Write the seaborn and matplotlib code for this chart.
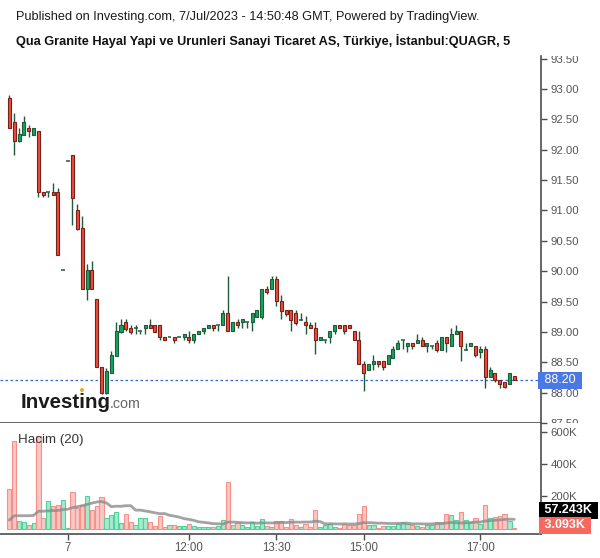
import numpy as np
import pandas as pd
import matplotlib
matplotlib.use("Agg")
import matplotlib.pyplot as plt
import matplotlib.transforms as mtransforms
from matplotlib.patches import Ellipse
import seaborn as sns

# ---------------- data ----------------
bar_idx = list(range(105))
open_p = [92.85, 92.45, 92.15, 92.25, 92.35, 92.25, 92.30, 91.30, 91.30, 91.30,
          91.30, 90.02, 91.81, 91.91, 91.01, 90.71, 89.70, 90.02, 89.55, 88.42,
          88.00, 88.32, 88.61, 89.00, 89.16, 89.06, 89.06, 89.01, 89.06, 89.11,
          89.11, 89.11, 88.91, 88.91, 88.91, 88.91, 88.91, 88.91, 88.86, 88.96,
          89.01, 89.06, 89.11, 89.11, 89.11, 89.31, 89.01, 89.16, 89.16, 89.16,
          89.16, 89.25, 89.25, 89.70, 89.70, 89.87, 89.51, 89.36, 89.36, 89.31,
          89.20, 89.16, 89.11, 89.06, 88.86, 88.86, 88.91, 89.01, 89.11, 89.11,
          89.11, 89.01, 88.86, 88.47, 88.37, 88.47, 88.52, 88.52, 88.47, 88.57,
          88.72, 88.86, 88.76, 88.81, 88.81, 88.86, 88.76, 88.76, 88.81, 88.71,
          88.92, 88.76, 88.96, 89.02, 88.71, 88.76, 88.76, 88.67, 88.72, 88.26,
          88.32, 88.21, 88.17, 88.15, 88.27]
high_p = [92.90, 92.60, 92.35, 92.56, 92.41, 92.35, 92.30, 91.30, 91.30, 91.46,
          91.37, 90.02, 91.81, 91.91, 91.11, 90.91, 90.12, 90.17, 89.55, 88.42,
          88.40, 88.68, 89.16, 89.21, 89.21, 89.11, 89.11, 89.01, 89.11, 89.21,
          89.11, 89.11, 88.91, 88.91, 88.91, 88.91, 88.96, 89.01, 88.96, 89.01,
          89.06, 89.11, 89.11, 89.11, 89.36, 89.92, 89.16, 89.21, 89.21, 89.16,
          89.31, 89.36, 89.70, 89.76, 89.92, 89.92, 89.61, 89.36, 89.36, 89.36,
          89.31, 89.26, 89.16, 89.16, 88.91, 88.86, 89.01, 89.11, 89.11, 89.11,
          89.11, 89.01, 89.01, 88.52, 88.47, 88.62, 88.52, 88.52, 88.62, 88.76,
          88.86, 88.86, 88.81, 88.81, 88.96, 88.91, 88.81, 88.76, 88.86, 88.92,
          88.92, 89.06, 89.11, 89.02, 88.82, 88.81, 88.76, 88.76, 88.76, 88.42,
          88.32, 88.21, 88.17, 88.32, 88.27]
low_p = [92.35, 91.92, 92.12, 92.24, 92.21, 92.25, 91.22, 91.22, 91.22, 91.25,
         90.27, 90.02, 91.81, 90.76, 90.67, 89.70, 89.52, 89.70, 88.42, 87.98,
         87.98, 88.32, 88.61, 88.98, 89.02, 88.97, 88.97, 88.97, 88.97, 89.06,
         89.00, 88.87, 88.86, 88.91, 88.82, 88.91, 88.87, 88.82, 88.82, 88.96,
         88.97, 89.06, 89.02, 89.02, 89.11, 89.01, 89.01, 89.06, 89.06, 89.06,
         89.02, 89.25, 89.21, 89.62, 89.70, 89.42, 89.22, 89.27, 89.01, 89.12,
         89.20, 88.97, 89.06, 88.63, 88.86, 88.82, 88.82, 88.97, 89.06, 88.97,
         89.06, 88.86, 88.47, 88.02, 88.37, 88.37, 88.42, 88.37, 88.47, 88.57,
         88.72, 88.72, 88.67, 88.72, 88.81, 88.76, 88.67, 88.72, 88.67, 88.71,
         88.67, 88.76, 88.96, 88.52, 88.71, 88.76, 88.58, 88.57, 88.07, 88.26,
         88.17, 88.07, 88.07, 88.15, 88.21]
close_p = [92.35, 92.15, 92.26, 92.45, 92.30, 92.35, 91.30, 91.25, 91.30, 91.25,
           90.27, 90.02, 91.81, 91.20, 90.70, 89.70, 90.02, 89.70, 88.42, 88.00,
           88.36, 88.62, 89.02, 89.11, 89.05, 89.00, 89.06, 89.01, 89.11, 89.06,
           89.00, 88.91, 88.86, 88.91, 88.86, 88.91, 88.96, 88.86, 88.96, 89.01,
           89.06, 89.11, 89.06, 89.11, 89.31, 89.01, 89.16, 89.11, 89.21, 89.16,
           89.31, 89.36, 89.70, 89.65, 89.87, 89.51, 89.35, 89.30, 89.20, 89.15,
           89.20, 89.11, 89.06, 88.86, 88.91, 88.86, 89.01, 89.11, 89.06, 89.01,
           89.06, 88.86, 88.47, 88.32, 88.47, 88.52, 88.47, 88.42, 88.62, 88.72,
           88.81, 88.86, 88.81, 88.76, 88.86, 88.76, 88.81, 88.76, 88.71, 88.92,
           88.81, 88.96, 89.02, 88.76, 88.71, 88.81, 88.62, 88.72, 88.26, 88.37,
           88.21, 88.15, 88.10, 88.32, 88.21]
volume_k = [246, 543, 48, 40, 23, 33, 574, 64, 171, 142,
            147, 178, 2, 229, 126, 145, 200, 116, 140, 194,
            68, 85, 101, 33, 91, 40, 21, 64, 64, 43,
            17, 77, 12, 21, 21, 15, 15, 27, 15, 12,
            12, 10, 10, 17, 54, 289, 21, 33, 21, 10,
            40, 15, 58, 17, 12, 48, 48, 8, 60, 23,
            8, 29, 8, 116, 8, 21, 29, 12, 6, 29,
            21, 21, 89, 140, 21, 21, 2, 17, 17, 17,
            29, 41, 29, 21, 17, 12, 21, 21, 41, 37,
            89, 85, 54, 101, 54, 43, 64, 27, 145, 64,
            75, 80, 93, 48, 3.093]
# volume MA(20) values for the first bars (window includes prior data)
ma_head_k = [53, 80, 80, 80, 80, 82, 108, 108, 110, 112,
             112, 118, 120, 130, 136, 142, 150, 158, 165]

tick_bars = [12, 37, 55, 73, 97]
tick_labels = ["7", "12:00", "13:30", "15:00", "17:00"]
price_ticks = [87.5, 88.0, 88.5, 89.0, 89.5, 90.0, 90.5, 91.0, 91.5, 92.0, 92.5, 93.0, 93.5]
vol_ticks_k = [200, 400, 600]
last_price = 88.20
ma_last_label = "57.243K"
vol_last_label = "3.093K"

df = pd.DataFrame({"bar": bar_idx, "open": open_p, "high": high_p,
                   "low": low_p, "close": close_p, "volume": np.array(volume_k) * 1000})
ma = df["volume"].rolling(20).mean().to_numpy()
ma[:len(ma_head_k)] = np.array(ma_head_k) * 1000
df["ma"] = ma
df["up"] = df["close"] >= df["open"]

# ---------------- style ----------------
sns.set_theme(style="white")
plt.rcParams['font.family'] = ['Liberation Sans', 'DejaVu Sans']

W, H = 600, 558
fig = plt.figure(figsize=(W / 100, H / 100), dpi=100)
fig.patch.set_facecolor("white")


def rect(x0, y0, x1, y1):
    return [x0 / W, 1 - y1 / H, (x1 - x0) / W, (y1 - y0) / H]


ax = fig.add_axes(rect(0, 56, 541, 423))
axv = fig.add_axes(rect(0, 423, 541, 533.5), sharex=ax)

axis_col = "#4d4d4d"
label_col = "#555555"
wick_col = "#1f5a3b"
up_fill, up_edge = "#14a660", "#1f5a3b"
dn_fill, dn_edge = "#ef4a3e", "#7a2117"

# ---------------- candles ----------------
xs = df["bar"].to_numpy()
ax.vlines(xs, df["low"], df["high"], color=wick_col, lw=1.0, zorder=2)
body_lo = np.minimum(df["open"], df["close"])
body_h = (df["close"] - df["open"]).abs()
doji = (body_h < 1e-9).to_numpy()
up = df["up"].to_numpy()
nd = ~doji
ax.bar(xs[nd & up], body_h[nd & up], bottom=body_lo[nd & up], width=0.62,
       color=up_fill, edgecolor=up_edge, lw=0.8, zorder=3)
ax.bar(xs[nd & ~up], body_h[nd & ~up], bottom=body_lo[nd & ~up], width=0.62,
       color=dn_fill, edgecolor=dn_edge, lw=0.8, zorder=3)
ax.hlines(df["open"][doji], xs[doji] - 0.4, xs[doji] + 0.4,
          color=wick_col, lw=1.1, zorder=3)

ax.axhline(last_price, color="#3a66d9", lw=0.9, ls=(0, (2, 2)), zorder=1)

ax.set_xlim(-1.92, 109.5)
ax.set_ylim(87.501, 93.543)
ax.yaxis.tick_right()
ax.set_yticks(price_ticks)
ax.set_yticklabels([f"{p:.2f}" for p in price_ticks])
ax.tick_params(axis="y", direction="out", length=4, width=1, color=axis_col,
               labelcolor=label_col, labelsize=8.2, pad=3, right=True, left=False)
ax.tick_params(axis="x", bottom=False, labelbottom=False)
for s in ["left", "top"]:
    ax.spines[s].set_visible(False)
for s in ["right", "bottom"]:
    ax.spines[s].set_color(axis_col)
    ax.spines[s].set_linewidth(1.2)
ax.set_facecolor("white")

# clip the price labels to the price pane (edge labels are cut, as in the reference)
clip_price = mtransforms.TransformedBbox(
    mtransforms.Bbox([[541 / W, 1 - 423 / H], [1.0, 1 - 56 / H]]), fig.transFigure)
for t in ax.get_yticklabels():
    t.set_clip_on(True)
    t.set_clip_box(clip_price)

trans = mtransforms.blended_transform_factory(ax.transAxes, ax.transData)
ax.text(1.0, last_price, " 88.20 ", transform=trans, ha="left", va="center",
        color="white", fontsize=9, zorder=10, clip_on=False,
        bbox=dict(boxstyle="square,pad=0.22", fc="#4a78e6", ec="none"))

# ---------------- volume ----------------
vcol_fill = np.where(up, "#a8e8cc", "#fcc6c3")
vcol_edge = np.where(up, "#4fd49c", "#f5918b")
axv.bar(xs, df["volume"], width=0.86, color=vcol_fill, edgecolor=vcol_edge, lw=0.8, zorder=2)
sns.lineplot(x="bar", y="ma", data=df, ax=axv, color="#8c8c8c", lw=2.0, alpha=0.8, zorder=3)

axv.set_ylim(-30000, 654000)
axv.yaxis.tick_right()
axv.set_yticks([v * 1000 for v in vol_ticks_k])
axv.set_yticklabels([f"{v}K" for v in vol_ticks_k])
axv.set_xticks(tick_bars)
axv.set_xticklabels(tick_labels)
axv.set_xlabel("")
axv.set_ylabel("")
axv.tick_params(axis="y", direction="out", length=4, width=1, color=axis_col,
                labelcolor=label_col, labelsize=8.2, pad=3, right=True, left=False)
axv.tick_params(axis="x", direction="out", length=4, width=1, color=axis_col,
                labelcolor=label_col, labelsize=8.3, pad=2, bottom=True)
for s in ["left", "top"]:
    axv.spines[s].set_visible(False)
for s in ["right", "bottom"]:
    axv.spines[s].set_color(axis_col)
    axv.spines[s].set_linewidth(1.2)
axv.set_facecolor("white")

axv.text(1.0, (533.5 - 510) / 110.5, " " + ma_last_label + " ", transform=axv.transAxes,
         ha="left", va="center", color="white", fontsize=9, fontweight="bold",
         clip_on=False, zorder=10,
         bbox=dict(boxstyle="square,pad=0.2", fc="black", ec="none"))
axv.text(1.0, (533.5 - 525.5) / 110.5, " " + vol_last_label + " ", transform=axv.transAxes,
         ha="left", va="center", color="white", fontsize=9, fontweight="bold",
         clip_on=False, zorder=10,
         bbox=dict(boxstyle="square,pad=0.2", fc="#f7695f", ec="none"))

# ---------------- texts ----------------
fig.text(16 / W, 1 - 17 / H,
         "Published on Investing.com, 7/Jul/2023 - 14:50:48 GMT, Powered by TradingView.",
         ha="left", va="center", fontsize=9.2, color="#1a1a1a")
fig.text(16 / W, 1 - 41 / H,
         "Qua Granite Hayal Yapi ve Urunleri Sanayi Ticaret AS, Türkiye, İstanbul:QUAGR, 5",
         ha="left", va="center", fontsize=9.2, fontweight="bold", color="#111111")
fig.text(18 / W, 1 - 440 / H, "Hacim (20)", ha="left", va="center",
         fontsize=9.6, color="#333333")

# Investing.com logo
fig.text(21 / W, 1 - 408 / H, "Investing", ha="left", va="baseline",
         fontsize=14.8, fontweight="bold", color="#1b1b1b")
fig.text(109.5 / W, 1 - 408 / H, ".com", ha="left", va="baseline",
         fontsize=10.3, color="#666666")
fig.patches.append(Ellipse((82 / W, 1 - 390 / H), 4 / W, 4 / H, transform=fig.transFigure,
                           fc="#f5a623", ec="none"))

fig.savefig("out.png", dpi=100, facecolor="white")
